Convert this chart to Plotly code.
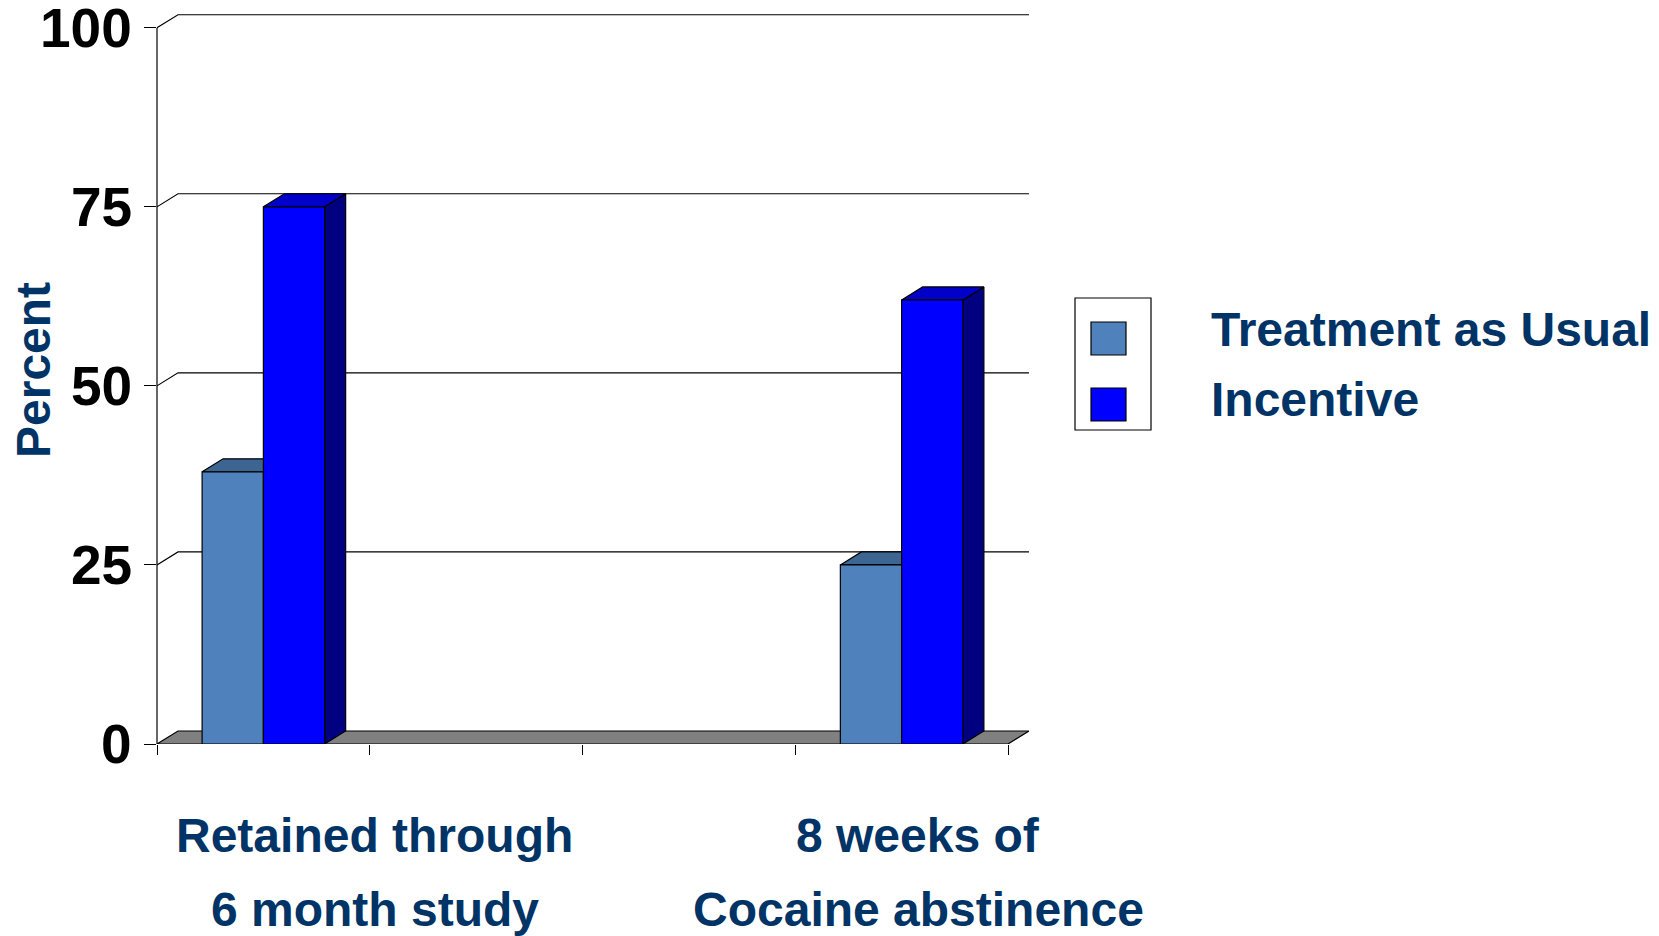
import plotly.graph_objects as go

# ---- data -------------------------------------------------------------
series_names = ["Treatment as Usual", "Incentive"]
category_slots = [0, 3]            # slots on a four-slot category axis (slots 1 and 2 are empty)
n_slots = 4
group_labels = [["Retained through", "6 month study"],
                ["8 weeks of", "Cocaine abstinence"]]
treatment_as_usual = [38, 25]
incentive = [75, 62]
y_ticks = [0, 25, 50, 75, 100]

# ---- styling ----------------------------------------------------------
faces = {
    "Treatment as Usual": dict(front="#4F81BD", top="#3C6592", side="#2E4D74"),
    "Incentive": dict(front="#0000FF", top="#0000C8", side="#000080"),
}
navy = "#003366"
font_family = "Liberation Sans, Arial, sans-serif"

W, H = 1659, 936
plot_left, plot_right, plot_top, plot_bottom = 157, 1029, 12, 744
front_right_px = 1008              # end of the front floor edge
y100_px = 27.7                     # pixel row of the 100 tick
depth_px = (21, 13)                # receding offset of the back wall
bar_w = 0.288                      # width of one bar, in category units
tick_label_right_px = 134          # right edge of the value labels

px_per_x = (front_right_px - plot_left) / n_slots
px_per_y = (plot_bottom - y100_px) / 100.0
x_lo = -0.5
x_hi = x_lo + (plot_right - plot_left) / px_per_x
y_hi = (plot_bottom - plot_top) / px_per_y
dxu = depth_px[0] / px_per_x
dyu = depth_px[1] / px_per_y
front_hi = x_lo + n_slots


def paper_x(px):
    return (px - plot_left) / (plot_right - plot_left)


def paper_y(py):
    return (plot_bottom - py) / (plot_bottom - plot_top)


def polygon(pts, color, lw=1.2):
    xs = [p[0] for p in pts] + [pts[0][0]]
    ys = [p[1] for p in pts] + [pts[0][1]]
    return go.Scatter(x=xs, y=ys, mode="lines", fill="toself", fillcolor=color,
                      line=dict(color="black", width=lw), hoverinfo="skip",
                      showlegend=False)


fig = go.Figure()

# back-wall gridlines with their receding stubs
for v in y_ticks[1:]:
    fig.add_trace(go.Scatter(x=[x_lo, x_lo + dxu, front_hi + dxu],
                             y=[v, v + dyu, v + dyu], mode="lines",
                             line=dict(color="black", width=1.1),
                             hoverinfo="skip", showlegend=False))

# floor
fig.add_trace(polygon([(x_lo, 0), (front_hi, 0), (front_hi + dxu, dyu), (x_lo + dxu, dyu)],
                      "#808080"))

# 3-D columns: side, top, then front face
series_values = {"Treatment as Usual": treatment_as_usual, "Incentive": incentive}
for i, slot in enumerate(category_slots):
    for s, name in enumerate(series_names):
        v = series_values[name][i]
        x0 = slot - bar_w + s * bar_w
        x1 = x0 + bar_w
        c = faces[name]
        fig.add_trace(polygon([(x1, 0), (x1, v), (x1 + dxu, v + dyu), (x1 + dxu, dyu)], c["side"]))
        fig.add_trace(polygon([(x0, v), (x1, v), (x1 + dxu, v + dyu), (x0 + dxu, v + dyu)], c["top"]))
        fig.add_trace(polygon([(x0, 0), (x1, 0), (x1, v), (x0, v)], c["front"]))

shapes = [
    # front value axis line, 0..100
    dict(type="line", xref="paper", yref="y", x0=0, x1=0, y0=0, y1=y_ticks[-1],
         line=dict(color="black", width=1.2)),
    # legend frame
    dict(type="rect", xref="paper", yref="paper",
         x0=paper_x(1075), x1=paper_x(1151), y0=paper_y(430), y1=paper_y(298),
         line=dict(color="black", width=1.2), fillcolor="white"),
]
legend_rows = [(322, 355, 329), (388, 421, 399)]
annotations = []
for name, (top, bot, mid) in zip(series_names, legend_rows):
    shapes.append(dict(type="rect", xref="paper", yref="paper",
                       x0=paper_x(1091), x1=paper_x(1126), y0=paper_y(bot), y1=paper_y(top),
                       line=dict(color="black", width=1.2), fillcolor=faces[name]["front"]))
    annotations.append(dict(text=name, xref="paper", yref="paper", x=paper_x(1209), y=paper_y(mid),
                            xanchor="left", yanchor="middle", showarrow=False,
                            font=dict(family=font_family, size=48, color=navy, weight="bold")))

# value labels beside the ticks
for v in y_ticks:
    annotations.append(dict(text=str(v), xref="paper", yref="y", x=paper_x(tick_label_right_px), y=v,
                            xanchor="right", yanchor="middle", showarrow=False,
                            font=dict(family=font_family, size=55, color="black", weight="bold")))

# category captions
caption_centers = [374.5, 918.3]
caption_rows = [836, 909]
for lines, cx in zip(group_labels, caption_centers):
    for line, cy in zip(lines, caption_rows):
        annotations.append(dict(text=line, xref="paper", yref="paper", x=paper_x(cx), y=paper_y(cy),
                                xanchor="center", yanchor="middle", showarrow=False,
                                font=dict(family=font_family, size=48, color=navy, weight="bold")))

# value axis title
annotations.append(dict(text="Percent", xref="paper", yref="paper", x=paper_x(33), y=paper_y(370),
                        xanchor="center", yanchor="middle", textangle=-90, showarrow=False,
                        font=dict(family=font_family, size=48, color=navy, weight="bold")))

fig.update_layout(
    width=W, height=H,
    margin=dict(l=plot_left, r=W - plot_right, t=plot_top, b=H - plot_bottom, pad=0,
                autoexpand=False),
    paper_bgcolor="white", plot_bgcolor="white",
    showlegend=False,
    shapes=shapes, annotations=annotations,
    xaxis=dict(range=[x_lo, x_hi], showgrid=False, zeroline=False, showline=False,
               tickvals=[x_lo + k for k in range(n_slots + 1)], ticks="outside",
               ticklen=10, tickwidth=1.2, tickcolor="black", showticklabels=False,
               automargin=False, fixedrange=True),
    yaxis=dict(range=[0, y_hi], showgrid=False, zeroline=False, showline=False,
               tickvals=y_ticks, ticks="outside", showticklabels=False,
               ticklen=12, tickwidth=1.2, tickcolor="black",
               automargin=False, fixedrange=True),
)

fig.write_html("out.html")
